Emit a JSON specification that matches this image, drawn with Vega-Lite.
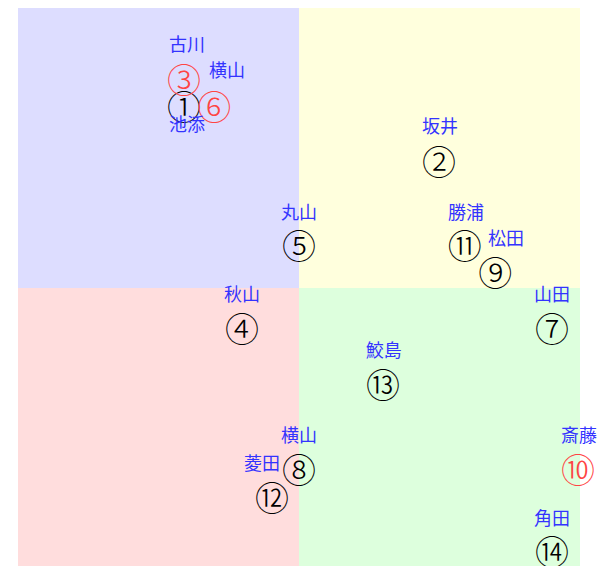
{
  "$schema": "https://vega.github.io/schema/vega-lite/v6.json",
  "width": 562,
  "height": 560,
  "autosize": {"type": "none"},
  "padding": {"left": 18, "top": 8, "right": 32, "bottom": 0},
  "background": "white",
  "config": {"view": {"stroke": null}},
  "datasets": {
    "quads": [
      {"x1": -10, "x2": 0, "y1": 0, "y2": 10, "fill": "tl"},
      {"x1": 0, "x2": 10, "y1": 0, "y2": 10, "fill": "tr"},
      {"x1": -10, "x2": 0, "y1": -10, "y2": 0, "fill": "bl"},
      {"x1": 0, "x2": 10, "y1": -10, "y2": 0, "fill": "br"}
    ],
    "points": [
      {"id": "①", "x": -4.09, "y": 6.46, "grp": "black"},
      {"id": "②", "x": 4.98, "y": 4.5, "grp": "black"},
      {"id": "③", "x": -4.09, "y": 7.43, "grp": "red"},
      {"id": "④", "x": -2.03, "y": -1.46, "grp": "black"},
      {"id": "⑤", "x": 0, "y": 1.5, "grp": "black"},
      {"id": "⑥", "x": -3.02, "y": 6.46, "grp": "red"},
      {"id": "⑦", "x": 9.0, "y": -1.46, "grp": "black"},
      {"id": "⑧", "x": 0, "y": -6.5, "grp": "black"},
      {"id": "⑨", "x": 6.98, "y": 0.54, "grp": "black"},
      {"id": "⑩", "x": 9.93, "y": -6.5, "grp": "red"},
      {"id": "⑪", "x": 5.9, "y": 1.5, "grp": "black"},
      {"id": "⑫", "x": -0.96, "y": -7.5, "grp": "black"},
      {"id": "⑬", "x": 2.99, "y": -3.46, "grp": "black"},
      {"id": "⑭", "x": 9.0, "y": -9.43, "grp": "black"}
    ],
    "labels": [
      {"name": "古川", "x": -3.99, "y": 8.64},
      {"name": "横山", "x": -2.56, "y": 7.71},
      {"name": "池添", "x": -3.99, "y": 5.79},
      {"name": "坂井", "x": 5.02, "y": 5.71},
      {"name": "丸山", "x": 0, "y": 2.64},
      {"name": "勝浦", "x": 5.94, "y": 2.64},
      {"name": "松田", "x": 7.37, "y": 1.71},
      {"name": "秋山", "x": -2.03, "y": -0.29},
      {"name": "山田", "x": 9.0, "y": -0.29},
      {"name": "鮫島", "x": 3.02, "y": -2.29},
      {"name": "横山", "x": 0, "y": -5.32},
      {"name": "菱田", "x": -1.32, "y": -6.32},
      {"name": "斎藤", "x": 9.96, "y": -5.32},
      {"name": "角田", "x": 9.0, "y": -8.29}
    ]
  },
  "layer": [
    {
      "data": {"name": "quads"},
      "mark": {"type": "rect"},
      "encoding": {
        "x": {"field": "x1", "type": "quantitative", "scale": {"domain": [-10, 10], "nice": false, "zero": false}, "axis": null},
        "x2": {"field": "x2"},
        "y": {"field": "y1", "type": "quantitative", "scale": {"domain": [-10, 10], "nice": false, "zero": false}, "axis": null},
        "y2": {"field": "y2"},
        "color": {"field": "fill", "type": "nominal", "scale": {"domain": ["tl", "tr", "bl", "br"], "range": ["#ddddff", "#ffffdd", "#ffdddd", "#ddffdd"]}, "legend": null}
      }
    },
    {
      "data": {"name": "points"},
      "mark": {"type": "text", "font": "Noto Sans CJK JP", "fontSize": 34, "fontWeight": 300, "align": "center", "baseline": "middle", "dy": 3},
      "encoding": {
        "x": {"field": "x", "type": "quantitative"},
        "y": {"field": "y", "type": "quantitative"},
        "text": {"field": "id"},
        "color": {"field": "grp", "type": "nominal", "scale": {"domain": ["black", "red"], "range": ["#000000", "#ff4444"]}, "legend": null}
      }
    },
    {
      "data": {"name": "labels"},
      "mark": {"type": "text", "font": "Noto Sans CJK JP", "fontSize": 18, "align": "center", "baseline": "middle", "color": "#3333ff"},
      "encoding": {
        "x": {"field": "x", "type": "quantitative"},
        "y": {"field": "y", "type": "quantitative"},
        "text": {"field": "name"}
      }
    }
  ],
  "resolve": {"scale": {"color": "independent"}}
}
